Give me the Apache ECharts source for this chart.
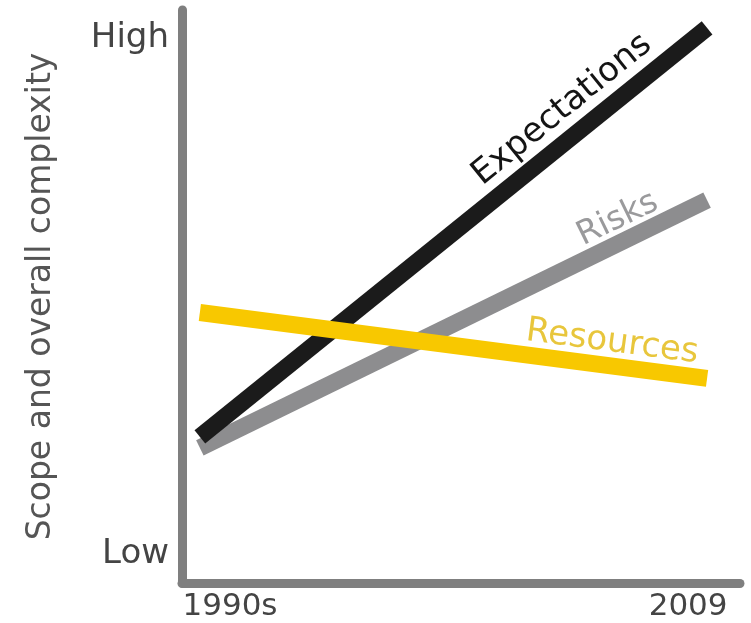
<!DOCTYPE html>
<html><head><meta charset="utf-8">
<script src="https://cdn.jsdelivr.net/npm/echarts@6/dist/echarts.min.js"></script>
<style>html,body{margin:0;padding:0;background:#fff}#c{width:751px;height:623px}</style>
</head><body><div id="c"></div>
<script>
const xPoints = [3.2, 94.1];
const expectations = [25.5, 96.9];
const risks = [23.6, 66.8];
const resources = [47.2, 35.7];
const xTickLabels = ['1990s', '2009'];
const xTickPos = [8.6, 90.7];
const yTickLabels = ['Low', 'High'];
const yTickPos = [5, 95];
const seriesNames = ['Risks', 'Expectations', 'Resources'];
const labelPos = { Expectations: [68.1, 82.6], Risks: [78.1, 63.5], Resources: [77.1, 42.0] };
const labelRot = { Expectations: 39, Risks: 26, Resources: -7.5 };

const FONT = 'DejaVu Sans';
const lineColors = { Expectations: '#1b1b1b', Risks: '#8d8d8f', Resources: '#f8c800' };
const textColors = { Expectations: '#141414', Risks: '#9a9a9c', Resources: '#e8c63c' };
const labelSize = { Expectations: 34, Risks: 33, Resources: 34 };
const dataFor = { Expectations: expectations, Risks: risks, Resources: resources };

const chart = echarts.init(document.getElementById('c'));
chart.setOption({
  animation: false,
  grid: { left: 182, right: 11, top: 10, bottom: 40 },
  xAxis: {
    type: 'value', min: 0, max: 100,
    axisLine: { onZero: false, lineStyle: { color: '#7f7f7f', width: 9 } },
    axisTick: { show: false }, splitLine: { show: false },
    axisLabel: {
      customValues: xTickPos, margin: 8,
      fontFamily: FONT, fontSize: 31, color: '#444',
      formatter: v => { const i = xTickPos.indexOf(v); return i >= 0 ? xTickLabels[i] : ''; }
    }
  },
  yAxis: {
    type: 'value', min: 0, max: 100,
    name: 'Scope and overall complexity', nameLocation: 'middle', nameGap: 124,
    nameTextStyle: { fontFamily: FONT, fontSize: 33, color: '#555' },
    axisLine: { show: true, lineStyle: { color: '#7f7f7f', width: 9 } },
    axisTick: { show: false }, splitLine: { show: false },
    axisLabel: {
      customValues: yTickPos, margin: 13,
      fontFamily: FONT, fontSize: 34, color: '#444',
      formatter: v => { const i = yTickPos.indexOf(v); return i >= 0 ? yTickLabels[i] : ''; }
    }
  },
  series: seriesNames.map(n => ({
    type: 'line', name: n, symbol: 'none',
    data: xPoints.map((x, i) => [x, dataFor[n][i]]),
    lineStyle: { color: lineColors[n], width: 17, cap: 'butt' },
    markPoint: {
      symbol: 'circle', symbolSize: 0, silent: true,
      data: [{ coord: labelPos[n], name: n }],
      label: { show: true, position: 'inside', formatter: n, rotate: labelRot[n],
        fontFamily: FONT, fontSize: labelSize[n], color: textColors[n] }
    }
  }))
});
</script></body></html>
